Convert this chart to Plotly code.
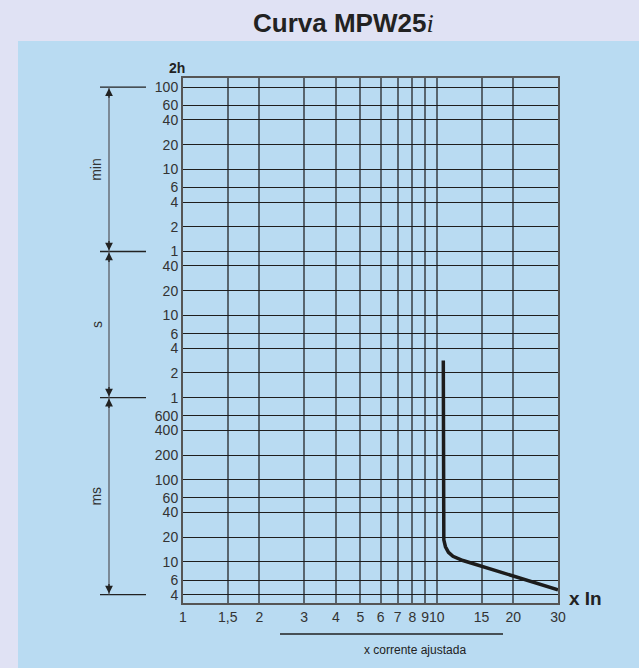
import math
import plotly.graph_objects as go

# ---- data ----
x_ticks = [1, 1.5, 2, 3, 4, 5, 6, 7, 8, 9, 10, 15, 20, 30]
x_ticktext = ["1", "1,5", "2", "3", "4", "5", "6", "7", "8", "9", "10", "15", "20", "30"]

# time tick values in seconds
y_ticks = [6000, 3600, 2400, 1200, 600, 360, 240, 120, 60,
           40, 20, 10, 6, 4, 2, 1,
           0.6, 0.4, 0.2, 0.1, 0.06, 0.04, 0.02, 0.01, 0.006, 0.004]
y_ticktext = ["100", "60", "40", "20", "10", "6", "4", "2", "1",
              "40", "20", "10", "6", "4", "2", "1",
              "600", "400", "200", "100", "60", "40", "20", "10", "6", "4"]

# trip curve (multiple of In, time in s)
curve_x = [10.6, 10.6, 10.65, 10.81, 11.11, 11.57, 12.11, 12.67, 30]
curve_t = [2.82, 0.0233, 0.0186, 0.0153, 0.0131, 0.0117, 0.0109, 0.0104, 0.00458]

# unit brackets (bounds in s)
bracket_bounds = [6000, 60, 1, 0.004]
bracket_labels = ["min", "s", "ms"]

W, H = 639, 668
L, R, T, B = 183, 81, 78, 65
PW, PH = W - L - R, H - T - B
Y_RANGE = [-2.50, 3.89]


def px_x(px):
    return (px - L) / PW


def px_y(py):
    return (H - B - py) / PH


OUTER = "#E0E2F4"
PANEL = "#B9DBF2"
INK = "#222222"
FONT = "Liberation Sans"

fig = go.Figure()
fig.add_trace(go.Scatter(x=curve_x, y=curve_t, mode="lines",
                         line=dict(color="#1c1c1c", width=3.5),
                         hoverinfo="skip", showlegend=False))

shapes = []
# light blue panel
shapes.append(dict(type="rect", xref="paper", yref="paper",
                   x0=px_x(18), x1=px_x(645), y0=px_y(672), y1=px_y(41),
                   fillcolor=PANEL, line=dict(width=0), layer="below"))
# bracket horizontal lines
for b in bracket_bounds:
    shapes.append(dict(type="line", xref="paper", yref="y",
                       x0=px_x(100), x1=px_x(146), y0=b, y1=b,
                       line=dict(color=INK, width=1.3)))
# bracket vertical lines (one per unit span)
for i in range(len(bracket_labels)):
    shapes.append(dict(type="line", xref="paper", yref="y",
                       x0=px_x(109), x1=px_x(109),
                       y0=bracket_bounds[i], y1=bracket_bounds[i + 1],
                       line=dict(color="#5a5f66", width=1.3)))
# underline for x label
shapes.append(dict(type="line", xref="paper", yref="paper",
                   x0=px_x(280), x1=px_x(503), y0=px_y(634), y1=px_y(634),
                   line=dict(color=INK, width=1.3)))


def note(px, py, text, size, color=INK, angle=0):
    return dict(xref="paper", yref="paper", x=px_x(px), y=px_y(py),
                xanchor="center", yanchor="middle", text=text, showarrow=False,
                textangle=angle, font=dict(family=FONT, size=size, color=color))


annotations = [
    note(343, 23, "<b>Curva MPW25</b><i><span style='font-family:Liberation Serif'>i</span></i>", 26),
    note(176.5, 68, "<b>2h</b>", 14),
    note(585, 598, "<b>x In</b>", 19),
    note(415, 650, "x corrente ajustada", 12),
]
# bracket arrowheads and labels
for i, lab in enumerate(bracket_labels):
    top = math.log10(bracket_bounds[i])
    bot = math.log10(bracket_bounds[i + 1])
    for tip, off in ((top, 12), (bot, -12)):
        annotations.append(dict(xref="paper", yref="y", x=px_x(109), y=tip,
                                ax=0, ay=off, text="", showarrow=True,
                                arrowhead=2, arrowsize=1.2, arrowwidth=1.3,
                                arrowcolor="#222222", standoff=1))
    annotations.append(dict(xref="paper", yref="y", x=px_x(96.5), y=(top + bot) / 2,
                            xanchor="center", yanchor="middle",
                            text=lab, textangle=-90, showarrow=False,
                            font=dict(family=FONT, size=14, color="#333333")))

fig.update_layout(
    width=W, height=H,
    margin=dict(l=L, r=R, t=T, b=B, pad=0),
    paper_bgcolor=OUTER, plot_bgcolor=PANEL,
    shapes=shapes, annotations=annotations,
    showlegend=False,
    xaxis=dict(type="log", range=[0, math.log10(30)],
               tickvals=x_ticks, ticktext=x_ticktext, tickangle=0,
               showgrid=True, gridcolor="rgba(50,55,60,0.72)", gridwidth=1.8,
               showline=True, linecolor="#555555", linewidth=2, mirror=True,
               ticks="", zeroline=False,
               tickfont=dict(family=FONT, size=14, color="#333333")),
    yaxis=dict(type="log", range=Y_RANGE,
               tickvals=y_ticks, ticktext=y_ticktext,
               showgrid=True, gridcolor="#1e1e1e", gridwidth=1.3,
               showline=True, linecolor="#555555", linewidth=2, mirror=True,
               ticks="", zeroline=False, ticklabelstandoff=0,
               tickfont=dict(family=FONT, size=14, color="#333333")),
)

fig.write_html("out.html",
               config={"displayModeBar": False},
               post_script="document.body.style.margin='0px';"
                           "document.body.style.background='" + OUTER + "';")
